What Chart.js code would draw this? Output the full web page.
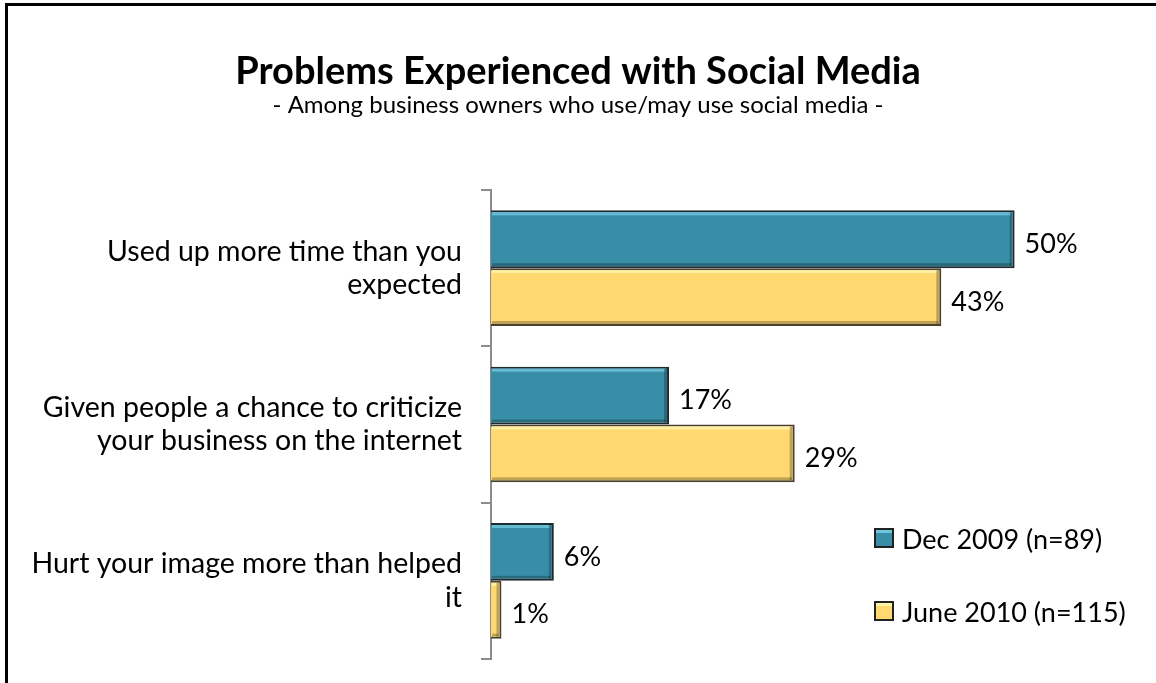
<!DOCTYPE html>
<html>
<head>
<meta charset="utf-8">
<script src="https://cdn.jsdelivr.net/npm/chart.js@4/dist/chart.umd.min.js"></script>
<style>
  html, body { margin: 0; padding: 0; background: #fff; overflow: hidden; }
  #wrap { position: relative; width: 1156px; height: 683px; }
  #frame { position: absolute; left: 5px; top: 3px; width: 1300px; height: 900px; border: 3px solid #000; box-sizing: border-box; pointer-events: none; }
  canvas { position: absolute; left: 0; top: 0; }
</style>
</head>
<body>
<div id="wrap">
  <canvas id="c" width="1156" height="683"></canvas>
  <div id="frame"></div>
</div>
<script>
const categories = [
  ["Used up more time than you", "expected"],
  ["Given people a chance to criticize", "your business on the internet"],
  ["Hurt your image more than helped", "it"]
];
const seriesNames = ["Dec 2009 (n=89)", "June 2010 (n=115)"];
const dec2009 = [50, 17, 6];
const june2010 = [43, 29, 1];
const titleText = "Problems Experienced with Social Media";
const subtitleText = "- Among business owners who use/may use social media -";

const FONT = "Lato, 'Open Sans', sans-serif";
const colors = {
  teal: "#398ea7", tealHi: "#6cc6dc", tealBorder: "#1e2a2e",
  yellow: "#ffd870", yellowHi: "#fff4a8", yellowBorder: "#4a4030"
};

const bevelPlugin = {
  id: "bevel",
  afterDatasetsDraw(chart) {
    const ctx = chart.ctx;
    chart.data.datasets.forEach((ds, di) => {
      const meta = chart.getDatasetMeta(di);
      const hi = di === 0 ? colors.tealHi : colors.yellowHi;
      meta.data.forEach(bar => {
        const left = bar.base, right = bar.x;
        const top = bar.y - bar.height / 2, bottom = bar.y + bar.height / 2;
        const w = right - left;
        if (w < 4) return;
        ctx.save();
        ctx.fillStyle = hi;
        ctx.globalAlpha = 0.85;
        ctx.fillRect(left + 1, top + 2, w - 5, 3);
        ctx.globalAlpha = 0.25;
        ctx.fillStyle = "#000";
        ctx.fillRect(right - 5, top + 2, 3, bottom - top - 4);
        ctx.fillRect(left + 1, bottom - 5, w - 4, 3);
        ctx.restore();
      });
    });
  }
};

const valueLabelPlugin = {
  id: "valueLabels",
  afterDatasetsDraw(chart) {
    const ctx = chart.ctx;
    ctx.save();
    ctx.font = "27px " + FONT;
    ctx.fillStyle = "#000";
    ctx.textAlign = "left";
    ctx.textBaseline = "middle";
    chart.data.datasets.forEach((ds, di) => {
      const meta = chart.getDatasetMeta(di);
      meta.data.forEach((bar, i) => {
        ctx.fillText(ds.data[i] + "%", bar.x + 10, bar.y + 5);
      });
    });
    ctx.restore();
  }
};

const legendPlugin = {
  id: "customLegend",
  afterDraw(chart) {
    const ctx = chart.ctx;
    ctx.save();
    ctx.font = "27px " + FONT;
    ctx.textBaseline = "middle";
    ctx.textAlign = "left";
    const ys = [528, 601];
    chart.data.datasets.forEach((ds, di) => {
      const x = 874, y = ys[di];
      ctx.fillStyle = "#222";
      ctx.fillRect(x, y, 20, 20);
      ctx.fillStyle = ds.backgroundColor;
      ctx.fillRect(x + 2, y + 2, 16, 16);
      ctx.fillStyle = di === 0 ? colors.tealHi : colors.yellowHi;
      ctx.fillRect(x + 2, y + 2, 16, 3);
      ctx.fillStyle = "#000";
      ctx.fillText(ds.label, 902, y + 12);
    });
    ctx.restore();
  }
};

new Chart(document.getElementById("c"), {
  type: "bar",
  data: {
    labels: categories,
    datasets: [
      { label: seriesNames[0], data: dec2009, backgroundColor: colors.teal, borderColor: colors.tealBorder, borderWidth: 2, borderSkipped: "left", categoryPercentage: 0.74, barPercentage: 1 },
      { label: seriesNames[1], data: june2010, backgroundColor: colors.yellow, borderColor: colors.yellowBorder, borderWidth: 2, borderSkipped: "left", categoryPercentage: 0.74, barPercentage: 1 }
    ]
  },
  options: {
    indexAxis: "y",
    responsive: false,
    animation: false,
    layout: { padding: { left: 0, right: 0, top: 0, bottom: 24 } },
    plugins: {
      legend: { display: false },
      tooltip: { enabled: false },
      title: {
        display: true, text: titleText, color: "#000",
        font: { family: FONT, size: 38, weight: "bold", lineHeight: 1.0 },
        padding: { top: 53, bottom: 0 }
      },
      subtitle: {
        display: true, text: subtitleText, color: "#000",
        font: { family: FONT, size: 24, lineHeight: 1.0 },
        padding: { top: 2, bottom: 73 }
      }
    },
    scales: {
      x: { display: false, min: 0, max: 63.5 },
      y: {
        afterFit(scale) { scale.width = 491; scale.paddingTop = 0; scale.paddingBottom = 0; },
        border: { display: true, color: "#8c8c8c", width: 2 },
        grid: { drawOnChartArea: false, drawTicks: true, tickLength: 10, color: "#8c8c8c", lineWidth: 2 },
        ticks: { color: "#000", padding: 19, font: { family: FONT, size: 28.5, lineHeight: 1.16 } }
      }
    }
  },
  plugins: [bevelPlugin, valueLabelPlugin, legendPlugin]
});
</script>
</body>
</html>
